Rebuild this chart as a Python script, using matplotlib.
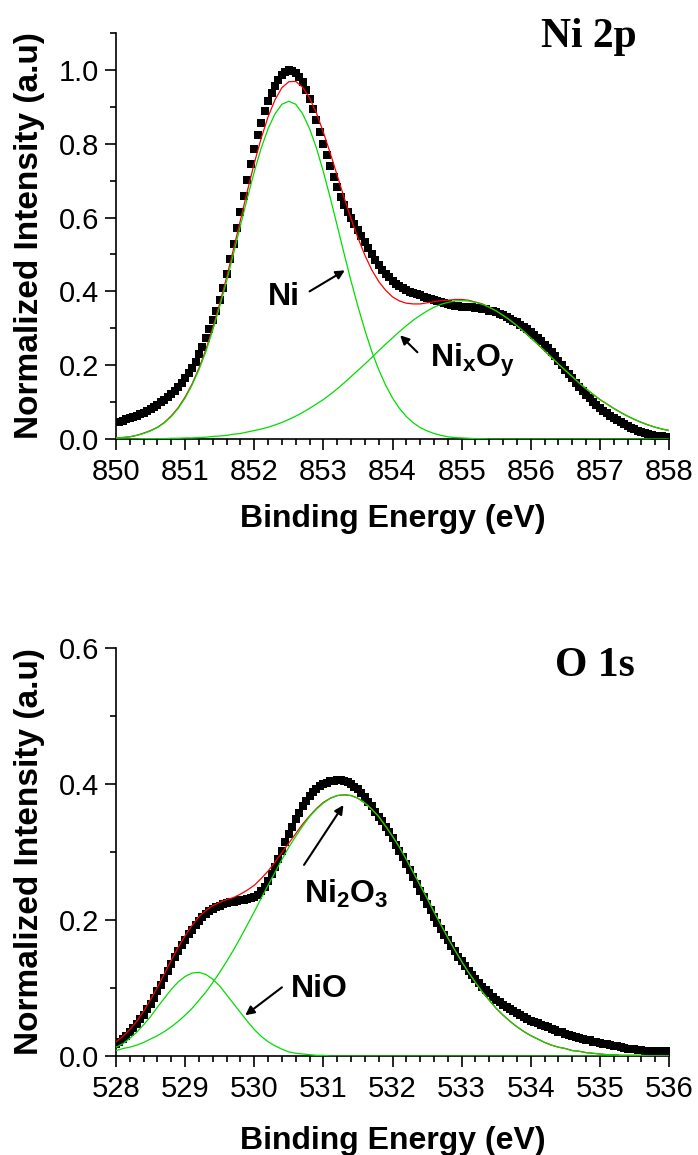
import numpy as np
import matplotlib
matplotlib.use("Agg")
import matplotlib.pyplot as plt
from matplotlib.ticker import MultipleLocator, FormatStrFormatter

plt.rcParams["font.family"] = ["Liberation Sans", "DejaVu Sans"]
plt.rcParams["mathtext.fontset"] = "custom"
plt.rcParams["mathtext.rm"] = "Liberation Sans:bold"
plt.rcParams["mathtext.bf"] = "Liberation Sans:bold"
plt.rcParams["mathtext.it"] = "Liberation Sans:bold"

# ---------------- Ni 2p ----------------
ni_e_data = np.linspace(850.0, 858.0, 161)   # measured points, 0.05 eV step
ni_data = [
    0.045, 0.047, 0.050, 0.053, 0.056, 0.059, 0.063, 0.067, 0.071, 0.076,
    0.081, 0.086, 0.092, 0.099, 0.106, 0.114, 0.122, 0.131, 0.141, 0.152,
    0.164, 0.178, 0.193, 0.210, 0.229, 0.250, 0.273, 0.297, 0.322, 0.348,
    0.376, 0.410, 0.447, 0.487, 0.529, 0.572, 0.615, 0.658, 0.701, 0.744,
    0.786, 0.823, 0.857, 0.888, 0.915, 0.938, 0.957, 0.973, 0.985, 0.995,
    1.000, 0.998, 0.992, 0.981, 0.966, 0.946, 0.922, 0.894, 0.864, 0.831,
    0.800, 0.769, 0.739, 0.710, 0.682, 0.655, 0.635, 0.616, 0.598, 0.582,
    0.567, 0.551, 0.534, 0.518, 0.501, 0.486, 0.472, 0.459, 0.448, 0.438,
    0.429, 0.421, 0.414, 0.408, 0.403, 0.399, 0.395, 0.392, 0.389, 0.386,
    0.383, 0.380, 0.377, 0.374, 0.371, 0.368, 0.365, 0.363, 0.361, 0.360,
    0.359, 0.358, 0.357, 0.357, 0.356, 0.355, 0.353, 0.351, 0.348, 0.346,
    0.343, 0.339, 0.335, 0.331, 0.326, 0.321, 0.316, 0.310, 0.304, 0.297,
    0.290, 0.282, 0.274, 0.265, 0.256, 0.246, 0.235, 0.224, 0.212, 0.200,
    0.188, 0.176, 0.164, 0.152, 0.141, 0.130, 0.120, 0.110, 0.101, 0.093,
    0.085, 0.077, 0.070, 0.063, 0.057, 0.051, 0.045, 0.040, 0.035, 0.030,
    0.026, 0.022, 0.019, 0.016, 0.013, 0.011, 0.009, 0.008, 0.007, 0.006,
    0.005,
]
ni_e_fit = np.linspace(850.0, 858.0, 81)     # fit curves, 0.1 eV step
ni_fit_total = [
    0.003, 0.004, 0.006, 0.010, 0.016, 0.023, 0.032, 0.045, 0.063, 0.085,
    0.114, 0.149, 0.192, 0.242, 0.302, 0.367, 0.438, 0.515, 0.593, 0.672,
    0.747, 0.815, 0.873, 0.919, 0.952, 0.968, 0.969, 0.953, 0.924, 0.883,
    0.831, 0.774, 0.714, 0.654, 0.597, 0.545, 0.498, 0.458, 0.427, 0.403,
    0.385, 0.374, 0.368, 0.366, 0.366, 0.369, 0.372, 0.375, 0.376, 0.378,
    0.378, 0.376, 0.371, 0.366, 0.357, 0.347, 0.335, 0.322, 0.307, 0.291,
    0.274, 0.257, 0.239, 0.221, 0.203, 0.186, 0.169, 0.152, 0.136, 0.121,
    0.107, 0.095, 0.083, 0.072, 0.062, 0.053, 0.045, 0.038, 0.032, 0.027,
    0.023,
]
ni_metal = [
    0.003, 0.004, 0.006, 0.010, 0.015, 0.022, 0.031, 0.044, 0.061, 0.083,
    0.111, 0.146, 0.188, 0.237, 0.295, 0.359, 0.428, 0.502, 0.578, 0.653,
    0.724, 0.788, 0.841, 0.881, 0.907, 0.915, 0.907, 0.881, 0.841, 0.788,
    0.724, 0.653, 0.578, 0.502, 0.428, 0.359, 0.295, 0.237, 0.188, 0.146,
    0.111, 0.083, 0.061, 0.044, 0.031, 0.022, 0.015, 0.010, 0.006, 0.004,
    0.003, 0.002, 0.001, 0.001, 0.000, 0.000, 0.000, 0.000, 0.000, 0.000,
    0.000, 0.000, 0.000, 0.000, 0.000, 0.000, 0.000, 0.000, 0.000, 0.000,
    0.000, 0.000, 0.000, 0.000, 0.000, 0.000, 0.000, 0.000, 0.000, 0.000,
    0.000,
]
ni_oxide = [
    0.000, 0.000, 0.000, 0.000, 0.001, 0.001, 0.001, 0.001, 0.002, 0.002,
    0.003, 0.003, 0.004, 0.005, 0.007, 0.008, 0.010, 0.013, 0.015, 0.019,
    0.023, 0.027, 0.032, 0.038, 0.045, 0.053, 0.062, 0.072, 0.083, 0.095,
    0.107, 0.121, 0.136, 0.152, 0.169, 0.186, 0.203, 0.221, 0.239, 0.257,
    0.274, 0.291, 0.307, 0.322, 0.335, 0.347, 0.357, 0.365, 0.370, 0.374,
    0.375, 0.374, 0.370, 0.365, 0.357, 0.347, 0.335, 0.322, 0.307, 0.291,
    0.274, 0.257, 0.239, 0.221, 0.203, 0.186, 0.169, 0.152, 0.136, 0.121,
    0.107, 0.095, 0.083, 0.072, 0.062, 0.053, 0.045, 0.038, 0.032, 0.027,
    0.023,
]

# ---------------- O 1s ----------------
o_e_data = np.linspace(528.0, 536.0, 161)
o_data = [
    0.018, 0.021, 0.025, 0.030, 0.035, 0.041, 0.047, 0.054, 0.061, 0.069,
    0.077, 0.086, 0.095, 0.105, 0.115, 0.125, 0.135, 0.145, 0.154, 0.163,
    0.171, 0.179, 0.186, 0.193, 0.199, 0.204, 0.209, 0.213, 0.216, 0.219,
    0.221, 0.223, 0.225, 0.226, 0.227, 0.228, 0.229, 0.230, 0.231, 0.232,
    0.234, 0.237, 0.242, 0.249, 0.257, 0.267, 0.278, 0.290, 0.302, 0.314,
    0.326, 0.337, 0.348, 0.358, 0.367, 0.375, 0.382, 0.388, 0.393, 0.397,
    0.400, 0.402, 0.404, 0.405, 0.406, 0.406, 0.405, 0.403, 0.400, 0.396,
    0.392, 0.387, 0.381, 0.374, 0.367, 0.359, 0.352, 0.345, 0.337, 0.329,
    0.320, 0.311, 0.302, 0.293, 0.283, 0.273, 0.263, 0.253, 0.243, 0.234,
    0.224, 0.215, 0.205, 0.196, 0.187, 0.178, 0.170, 0.162, 0.154, 0.146,
    0.139, 0.132, 0.125, 0.119, 0.113, 0.107, 0.102, 0.097, 0.092, 0.087,
    0.083, 0.079, 0.075, 0.072, 0.069, 0.066, 0.063, 0.060, 0.057, 0.055,
    0.052, 0.050, 0.048, 0.046, 0.044, 0.042, 0.040, 0.038, 0.036, 0.035,
    0.033, 0.031, 0.030, 0.028, 0.027, 0.025, 0.024, 0.023, 0.021, 0.020,
    0.019, 0.018, 0.017, 0.016, 0.015, 0.014, 0.013, 0.012, 0.011, 0.010,
    0.010, 0.009, 0.009, 0.008, 0.008, 0.008, 0.007, 0.007, 0.007, 0.007,
    0.006,
]
o_e_fit = np.linspace(528.0, 536.0, 81)
o_fit_total = [
    0.021, 0.029, 0.039, 0.051, 0.066, 0.083, 0.101, 0.121, 0.141, 0.160,
    0.177, 0.192, 0.205, 0.214, 0.221, 0.226, 0.230, 0.233, 0.238, 0.244,
    0.251, 0.261, 0.272, 0.285, 0.299, 0.313, 0.327, 0.341, 0.353, 0.364,
    0.373, 0.379, 0.383, 0.384, 0.383, 0.379, 0.372, 0.363, 0.352, 0.338,
    0.323, 0.307, 0.289, 0.270, 0.251, 0.232, 0.212, 0.193, 0.174, 0.156,
    0.139, 0.123, 0.108, 0.094, 0.082, 0.070, 0.060, 0.051, 0.043, 0.036,
    0.030, 0.025, 0.020, 0.016, 0.013, 0.011, 0.008, 0.007, 0.005, 0.004,
    0.003, 0.002, 0.002, 0.001, 0.001, 0.001, 0.001, 0.000, 0.000, 0.000,
    0.000,
]
o_nio = [
    0.013, 0.018, 0.026, 0.035, 0.046, 0.058, 0.072, 0.085, 0.098, 0.109,
    0.117, 0.122, 0.123, 0.120, 0.113, 0.103, 0.090, 0.077, 0.064, 0.051,
    0.039, 0.029, 0.021, 0.015, 0.010, 0.006, 0.004, 0.003, 0.002, 0.001,
    0.001, 0.000, 0.000, 0.000, 0.000, 0.000, 0.000, 0.000, 0.000, 0.000,
    0.000, 0.000, 0.000, 0.000, 0.000, 0.000, 0.000, 0.000, 0.000, 0.000,
    0.000, 0.000, 0.000, 0.000, 0.000, 0.000, 0.000, 0.000, 0.000, 0.000,
    0.000, 0.000, 0.000, 0.000, 0.000, 0.000, 0.000, 0.000, 0.000, 0.000,
    0.000, 0.000, 0.000, 0.000, 0.000, 0.000, 0.000, 0.000, 0.000, 0.000,
    0.000,
]
o_ni2o3 = [
    0.008, 0.011, 0.013, 0.016, 0.020, 0.025, 0.030, 0.036, 0.043, 0.051,
    0.060, 0.070, 0.082, 0.094, 0.108, 0.123, 0.139, 0.156, 0.174, 0.193,
    0.212, 0.232, 0.251, 0.270, 0.289, 0.307, 0.323, 0.338, 0.352, 0.363,
    0.372, 0.379, 0.383, 0.384, 0.383, 0.379, 0.372, 0.363, 0.352, 0.338,
    0.323, 0.307, 0.289, 0.270, 0.251, 0.232, 0.212, 0.193, 0.174, 0.156,
    0.139, 0.123, 0.108, 0.094, 0.082, 0.070, 0.060, 0.051, 0.043, 0.036,
    0.030, 0.025, 0.020, 0.016, 0.013, 0.011, 0.008, 0.007, 0.005, 0.004,
    0.003, 0.002, 0.002, 0.001, 0.001, 0.001, 0.001, 0.000, 0.000, 0.000,
    0.000,
]

GREEN = "#00dd00"
RED = "#ff0000"


def draw_panel(ax, e_data, data, e_fit, total, comps, xlim, ylim, title, title_xy):
    ax.plot(e_data, data, "s", color="k", ms=5.8, mew=0, zorder=2)
    ax.plot(e_fit, total, color=RED, lw=0.9, zorder=3)
    for c in comps:
        ax.plot(e_fit, c, color=GREEN, lw=0.9, zorder=4)
    ax.set_xlim(*xlim)
    ax.set_ylim(*ylim)
    ax.xaxis.set_major_locator(MultipleLocator(1))
    ax.xaxis.set_minor_locator(MultipleLocator(0.2))
    ax.yaxis.set_major_locator(MultipleLocator(0.2))
    ax.yaxis.set_minor_locator(MultipleLocator(0.1))
    ax.yaxis.set_major_formatter(FormatStrFormatter("%.1f"))
    for s in ["top", "right"]:
        ax.spines[s].set_visible(False)
    for s in ["left", "bottom"]:
        ax.spines[s].set_linewidth(1.2)
    ax.tick_params(which="major", direction="out", length=8, width=1.2, labelsize=21)
    ax.tick_params(axis="x", which="major", pad=6)
    ax.tick_params(axis="y", which="major", pad=4)
    ax.tick_params(which="minor", direction="out", length=4.5, width=1.2)
    ax.set_xlabel("Binding Energy (eV)", fontsize=23, fontweight="bold")
    ax.set_ylabel("Normalized Intensity (a.u)", fontsize=24, fontweight="bold")
    ax.yaxis.set_label_coords(-0.128, 0.5)
    ax.text(title_xy[0], title_xy[1], title, transform=ax.transAxes, ha="right", va="baseline",
            fontsize=30, fontweight="bold", family=["Liberation Serif", "DejaVu Serif"])


def arrow(ax, tail, head):
    ax.annotate("", xy=head, xytext=tail,
                arrowprops=dict(arrowstyle="-|>", color="k", lw=1.5, mutation_scale=13,
                                shrinkA=0, shrinkB=0))


fig = plt.figure(figsize=(6.98, 11.55), dpi=100)

ax1 = fig.add_axes([0.1662, 0.6199, 0.7923, 0.3515])
draw_panel(ax1, ni_e_data, ni_data, ni_e_fit, ni_fit_total, [ni_metal, ni_oxide],
           (850, 858), (0, 1.1), "Ni 2p", (0.942, 0.9655))
ax1.xaxis.set_label_coords(0.5, -0.160)
ax1.text(852.2, 0.362, "Ni", fontsize=23, fontweight="bold", ha="left", va="baseline")
arrow(ax1, (852.8, 0.40), (853.31, 0.457))
ax1.text(854.54, 0.195, r"Ni$_\mathbf{x}$O$_\mathbf{y}$", fontsize=23, fontweight="bold",
         ha="left", va="baseline")
arrow(ax1, (854.36, 0.235), (854.11, 0.281))

ax2 = fig.add_axes([0.1662, 0.0857, 0.7923, 0.3533])
draw_panel(ax2, o_e_data, o_data, o_e_fit, o_fit_total, [o_nio, o_ni2o3],
           (528, 536), (0, 0.6), "O 1s", (0.9385, 0.931))
ax2.xaxis.set_label_coords(0.5, -0.172)
ax2.text(530.72, 0.225, r"Ni$_\mathbf{2}$O$_\mathbf{3}$", fontsize=23, fontweight="bold",
         ha="left", va="baseline")
arrow(ax2, (530.72, 0.281), (531.29, 0.369))
ax2.text(530.53, 0.087, "NiO", fontsize=23, fontweight="bold", ha="left", va="baseline")
arrow(ax2, (530.40, 0.101), (529.87, 0.060))

fig.savefig("out.png", dpi=100)
